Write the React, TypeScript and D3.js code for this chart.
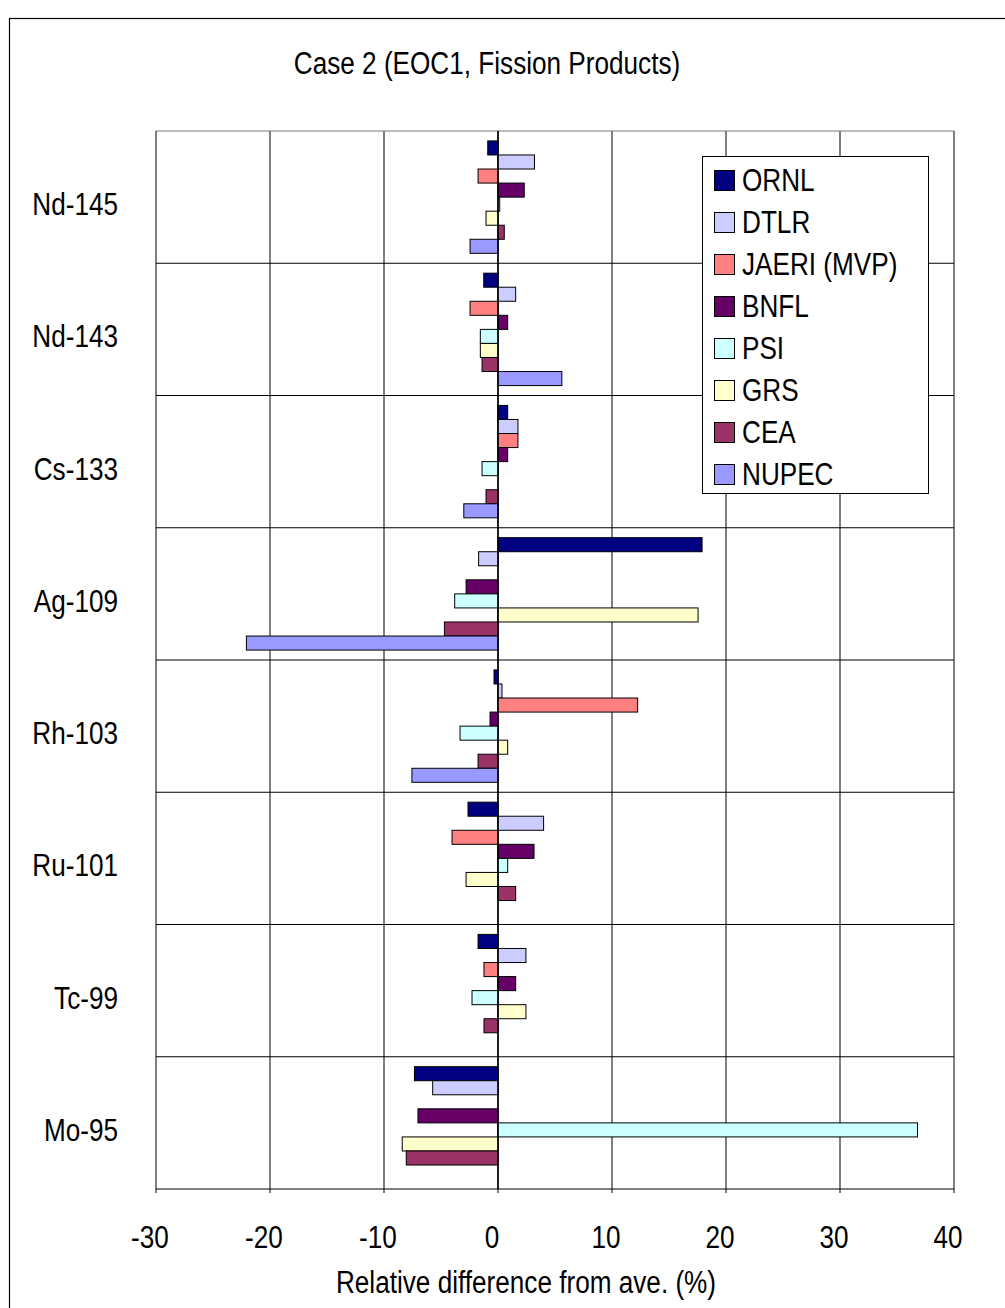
import React from "react";
import * as d3 from "d3";

const categories = ["Nd-145", "Nd-143", "Cs-133", "Ag-109", "Rh-103", "Ru-101", "Tc-99", "Mo-95"];
const seriesNames = ["ORNL", "DTLR", "JAERI (MVP)", "BNFL", "PSI", "GRS", "CEA", "NUPEC"];
const seriesColors = ["#000080", "#CCCCFF", "#FF8080", "#660066", "#CCFFFF", "#FFFFCC", "#993366", "#9999FF"];

const ORNL = [-0.9, -1.25, 0.85, 17.9, -0.35, -2.63, -1.75, -7.33];
const DTLR = [3.2, 1.55, 1.75, -1.7, 0.35, 4.0, 2.45, -5.73];
const JAERI = [-1.75, -2.45, 1.75, 0, 12.25, -4.03, -1.23, 0];
const BNFL = [2.3, 0.85, 0.85, -2.8, -0.7, 3.16, 1.55, -7.02];
const PSI = [0.15, -1.55, -1.4, -3.8, -3.33, 0.85, -2.28, 36.8];
const GRS = [-1.05, -1.55, 0, 17.55, 0.85, -2.8, 2.45, -8.4];
const CEA = [0.55, -1.4, -1.05, -4.7, -1.75, 1.55, -1.23, -8.05];
const NUPEC = [-2.45, 5.6, -3.0, -22.07, -7.55, 0, 0, 0];

const seriesValues = [ORNL, DTLR, JAERI, BNFL, PSI, GRS, CEA, NUPEC];
const xTicks = [-30, -20, -10, 0, 10, 20, 30, 40];

const FONT = "'Liberation Sans', Arial, sans-serif";
const SX = 0.83;

function Txt(props: { x: number; y: number; anchor?: string; size?: number; children: React.ReactNode }) {
  const { x, y, anchor = "start", size = 31.5, children } = props;
  return (
    <text
      transform={`translate(${x},${y}) scale(${SX},1)`}
      textAnchor={anchor as any}
      dominantBaseline="central"
      fontSize={size}
      fill="#000"
    >
      {children}
    </text>
  );
}

export default function App() {
  const left = 156, right = 954, top = 131, bottom = 1189;
  const x = d3.scaleLinear().domain([-30, 40]).range([left, right]);
  const y = d3.scaleBand<string>().domain(categories).range([top, bottom]).paddingInner(0.15).paddingOuter(0.075);
  const yInner = d3.scaleBand<number>().domain(d3.range(seriesNames.length)).range([0, y.bandwidth()]);
  const step = y.step();
  const boundaries = d3.range(categories.length + 1).map((i) => top + i * step);

  return (
    <svg width={1005} height={1308} style={{ position: "absolute", left: 0, top: 0, background: "#fff" }} fontFamily={FONT}>
      <rect x={0} y={0} width={1005} height={1308} fill="#fff" />
      <rect x={9.5} y={18.5} width={1000} height={1300} fill="none" stroke="#000" strokeWidth={1.2} />
      <Txt x={487} y={63} anchor="middle" size={31.5}>
        Case 2 (EOC1, Fission Products)
      </Txt>

      {/* grid */}
      {xTicks.map((t) => (
        <line key={"gx" + t} x1={x(t)} x2={x(t)} y1={top} y2={bottom} stroke="#000" strokeWidth={1} />
      ))}
      {boundaries.map((b, i) => (
        <line key={"gy" + i} x1={left} x2={right} y1={b} y2={b} stroke={i === 0 ? "#777" : "#000"} strokeWidth={1} />
      ))}
      {xTicks.map((t) => (
        <line key={"tk" + t} x1={x(t)} x2={x(t)} y1={bottom} y2={bottom + 4} stroke="#000" />
      ))}

      {/* bars */}
      {categories.map((c, ci) => (
        <g key={c}>
          {seriesValues.map((vals, si) => {
            const v = vals[ci];
            if (v === 0) return null;
            const x0 = x(Math.min(0, v));
            const w = Math.abs(x(v) - x(0));
            return (
              <rect
                key={si}
                x={x0}
                y={(y(c) as number) + (yInner(si) as number)}
                width={w}
                height={yInner.bandwidth()}
                fill={seriesColors[si]}
                stroke="#000"
                strokeWidth={1}
              />
            );
          })}
        </g>
      ))}

      <line x1={x(0)} x2={x(0)} y1={top} y2={bottom} stroke="#000" strokeWidth={1.5} />

      {/* category labels */}
      {categories.map((c) => (
        <Txt key={"cl" + c} x={118} y={(y(c) as number) - step * 0.075 + step / 2 + 7} anchor="end">
          {c}
        </Txt>
      ))}

      {/* tick labels */}
      {xTicks.map((t) => (
        <Txt key={"tl" + t} x={x(t) - 6} y={1237} anchor="middle">
          {t}
        </Txt>
      ))}
      <Txt x={526} y={1282} anchor="middle">
        Relative difference from ave. (%)
      </Txt>

      {/* legend */}
      <rect x={702.5} y={156.5} width={226} height={337} fill="#fff" stroke="#000" strokeWidth={1} />
      {seriesNames.map((n, i) => (
        <g key={"lg" + n}>
          <rect x={714.5} y={170.5 + i * 42} width={20} height={20} fill={seriesColors[i]} stroke="#000" strokeWidth={1} />
          <Txt x={742} y={180 + i * 42}>
            {n}
          </Txt>
        </g>
      ))}
    </svg>
  );
}
